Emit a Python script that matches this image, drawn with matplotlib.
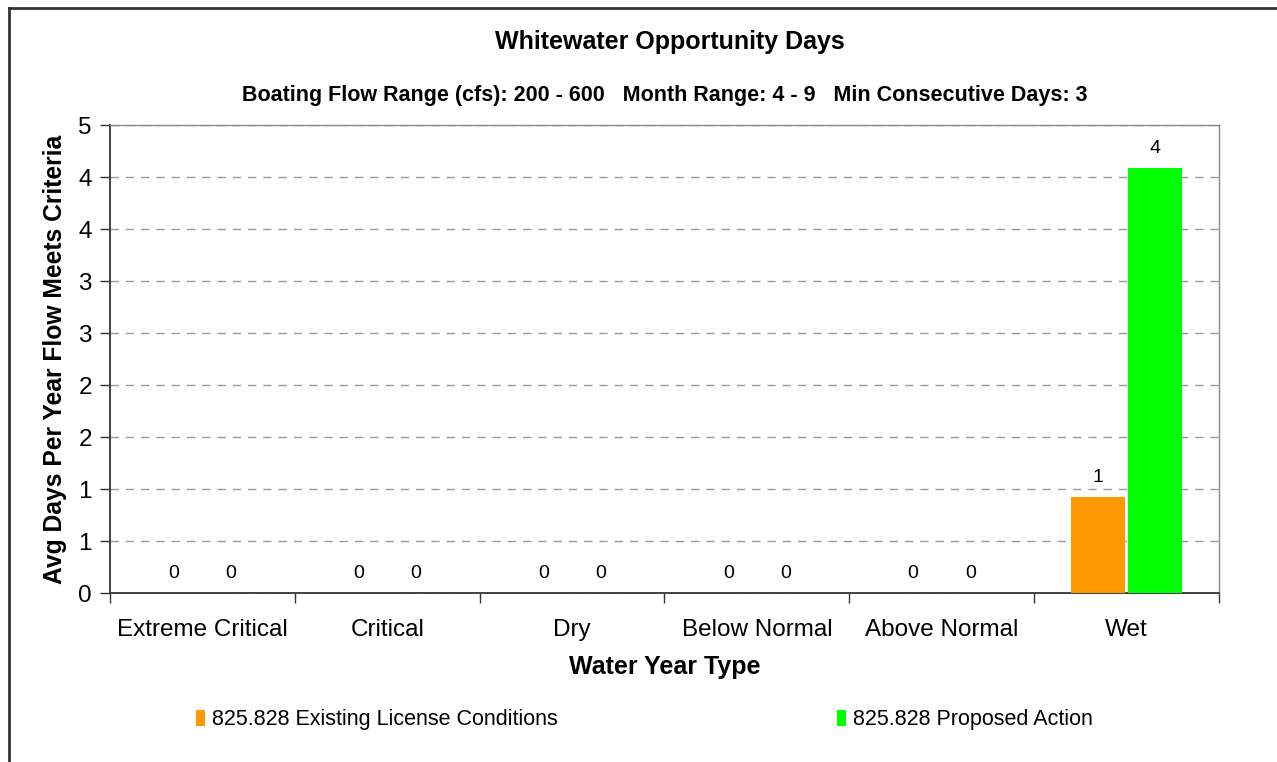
import math
import matplotlib
matplotlib.use('Agg')
import matplotlib.pyplot as plt
from matplotlib.lines import Line2D
from matplotlib.ticker import FixedLocator, FuncFormatter
import numpy as np

plt.rcParams['font.family'] = ['Liberation Sans', 'DejaVu Sans']

# data
categories = ['Extreme Critical', 'Critical', 'Dry', 'Below Normal', 'Above Normal', 'Wet']
existing = [0, 0, 0, 0, 0, 0.92]
proposed = [0, 0, 0, 0, 0, 4.09]
series_names = ['825.828 Existing License Conditions', '825.828 Proposed Action']
colors = ['#FF9900', '#00FF00']

title = 'Whitewater Opportunity Days'
subtitle = 'Boating Flow Range (cfs): 200 - 600   Month Range: 4 - 9   Min Consecutive Days: 3'

fig = plt.figure(figsize=(12.77, 7.62), dpi=100)
ax = fig.add_axes([110/1277, 1 - 593/762, (1219 - 110)/1277, (593 - 125)/762])

x = np.arange(len(categories))
w = 0.29
off = 0.155
b1 = ax.bar(x - off, existing, w, color=colors[0], label=series_names[0], zorder=3)
b2 = ax.bar(x + off, proposed, w, color=colors[1], label=series_names[1], zorder=3)

# data labels (Excel rounds half up)
def xl_round(v):
    return str(int(math.floor(v + 0.5)))

for bars, vals in ((b1, existing), (b2, proposed)):
    for r, v in zip(bars, vals):
        ax.annotate(xl_round(v), (r.get_x() + r.get_width()/2, v),
                    xytext=(0, 8), textcoords='offset points',
                    ha='center', va='bottom', fontsize=14)

ax.set_xlim(-0.5, len(categories) - 0.5)
ax.set_ylim(0, 4.5)

yt = np.arange(0, 4.51, 0.5)
ax.yaxis.set_major_locator(FixedLocator(yt))
ax.yaxis.set_major_formatter(FuncFormatter(lambda v, p: xl_round(v)))
ax.tick_params(axis='y', labelsize=17.5, length=7, width=1, color='#333333', pad=6)

ax.set_xticks(x)
ax.set_xticklabels(categories)
ax.xaxis.set_minor_locator(FixedLocator(np.arange(-0.5, len(categories), 1.0)))
ax.tick_params(axis='x', which='major', length=0, labelsize=17.5, pad=19)
ax.tick_params(axis='x', which='minor', length=7, width=1, color='#333333')

ax.grid(axis='y', linestyle=(0, (6, 5)), color='#999999', linewidth=1, zorder=0)

for s in ('left', 'bottom'):
    ax.spines[s].set_color('#333333')
    ax.spines[s].set_linewidth(1.3)
for s in ('top', 'right'):
    ax.spines[s].set_color('#888888')
    ax.spines[s].set_linewidth(1)

ax.set_xlabel('Water Year Type', fontsize=18, fontweight='bold', labelpad=10)
ax.set_ylabel('Avg Days Per Year Flow Meets Criteria', fontsize=17.7, fontweight='bold', labelpad=8)

cx = 665/1277
fig.text(cx + 0.004, 1 - 42/762, title, ha='center', va='center', fontsize=18, fontweight='bold')
fig.text(cx, 1 - 95/762, subtitle, ha='center', va='center', fontsize=15.5, fontweight='bold')

leg = fig.legend(handles=[b1, b2], ncol=2, loc='center left',
                 bbox_to_anchor=(196/1277, 1 - 720/762), frameon=False,
                 fontsize=15.5, handlelength=0.42, handleheight=0.75,
                 handletextpad=0.3, columnspacing=13.0, borderaxespad=0, borderpad=0)

# chart area border (clipped at the right and bottom)
fig.add_artist(Line2D([8.5/1277, 8.5/1277], [0, 1 - 8/762], color='#333333', lw=2))
fig.add_artist(Line2D([8.5/1277, 1], [1 - 8/762, 1 - 8/762], color='#333333', lw=2))

fig.savefig('out.png', dpi=100)
